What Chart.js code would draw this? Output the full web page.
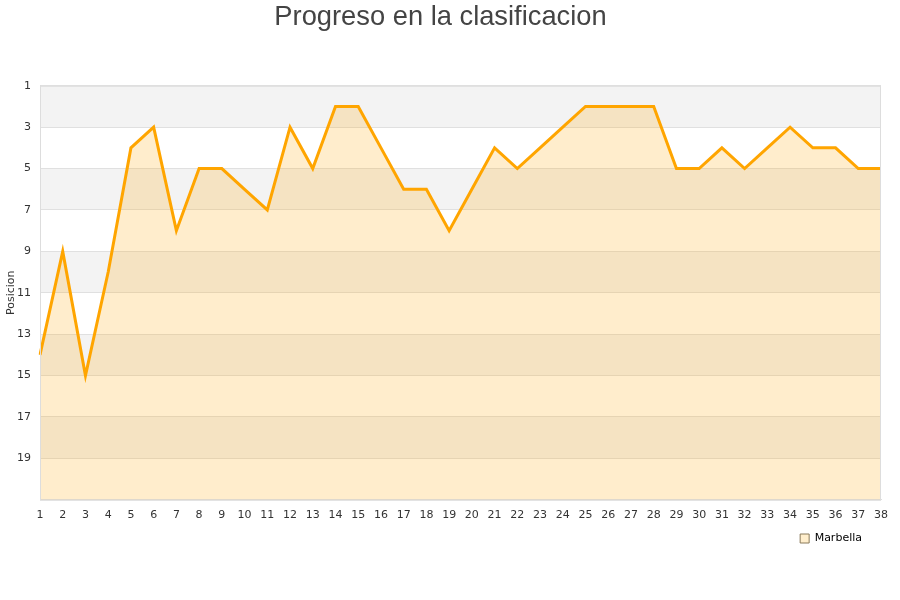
<!DOCTYPE html>
<html>
<head>
<meta charset="utf-8">
<script src="https://cdn.jsdelivr.net/npm/chart.js@4"></script>
<style>
html,body{margin:0;padding:0;background:#fff;}
#wrap{width:900px;height:600px;position:relative;}
</style>
</head>
<body>
<div id="wrap"><canvas id="c" width="900" height="600"></canvas></div>
<script>
const jornadas = ["1","2","3","4","5","6","7","8","9","10","11","12","13","14","15","16","17","18","19","20","21","22","23","24","25","26","27","28","29","30","31","32","33","34","35","36","37","38"];
const posiciones = [14,9,15,10,4,3,8,5,5,6,7,3,5,2,2,4,6,6,8,6,4,5,4,3,2,2,2,2,5,5,4,5,4,3,4,4,5,5];
const serieNombre = "Marbella";
const tituloTexto = "Progreso en la clasificacion";
const ejeYTitulo = "Posicion";

const bands = {
  id: 'bands',
  afterLayout(chart) {
    if (chart.legend) {
      chart.legend.left -= 12; chart.legend.right -= 12;
      chart.legend.top += 3; chart.legend.bottom += 3;
    }
  },
  beforeDraw(chart) {
    const {ctx, chartArea: a, scales: {y}} = chart;
    ctx.save();
    for (let v = 1; v < 21; v += 2) {
      const t = y.getPixelForValue(v), b = y.getPixelForValue(v + 2);
      ctx.fillStyle = ((v - 1) / 2) % 2 === 0 ? '#f3f3f3' : '#ffffff';
      ctx.fillRect(a.left, t, a.right - a.left, b - t);
    }
    ctx.restore();
  },
  afterDraw(chart) {
    const {ctx, chartArea: a} = chart;
    ctx.save();
    ctx.strokeStyle = '#dddddd';
    ctx.lineWidth = 1;
    ctx.strokeRect(a.left + 0.5, a.top + 0.5, a.right - a.left - 1, a.bottom - a.top);
    ctx.restore();
  }
};

new Chart(document.getElementById('c'), {
  type: 'line',
  data: {
    labels: jornadas,
    datasets: [{
      label: serieNombre,
      data: posiciones,
      borderColor: '#ffa500',
      backgroundColor: 'rgba(255,165,0,0.2)',
      borderWidth: 3,
      fill: {value: 21},
      pointRadius: 0,
      tension: 0
    }]
  },
  options: {
    responsive: false,
    animation: false,
    layout: {padding: {left: 0, right: 19, top: 0, bottom: 49}},
    plugins: {
      title: {
        display: true,
        text: tituloTexto,
        color: '#444444',
        font: {family: 'Liberation Sans, Arial, sans-serif', size: 27.3, weight: 'normal'},
        padding: {top: 1, bottom: 52}
      },
      legend: {
        position: 'bottom',
        align: 'end',
        labels: {
          boxWidth: 9,
          boxHeight: 9,
          padding: 7,
          color: '#222',
          font: {family: 'DejaVu Sans', size: 11},
          generateLabels(chart) {
            return [{text: serieNombre, fillStyle: '#ffeecc', strokeStyle: '#8a7a5a', lineWidth: 1, datasetIndex: 0}];
          }
        }
      },
      tooltip: {enabled: false}
    },
    scales: {
      x: {
        offset: false,
        grid: {display: false},
        border: {color: '#dddddd'},
        ticks: {color: '#333', font: {family: 'DejaVu Sans', size: 11}, maxRotation: 0, autoSkip: false, padding: 1}
      },
      y: {
        reverse: true,
        min: 1,
        max: 21,
        afterFit(scale) { scale.width = 40; },
        title: {display: true, text: ejeYTitulo, color: '#333', font: {family: 'DejaVu Sans', size: 11}, padding: {top: 5, bottom: 0}},
        grid: {color: '#e0e0e0', drawTicks: false},
        border: {color: '#dddddd'},
        ticks: {
          stepSize: 2,
          color: '#333',
          padding: 9,
          font: {family: 'DejaVu Sans', size: 11},
          callback: (v) => v === 21 ? '' : v
        }
      }
    }
  },
  plugins: [bands]
});
</script>
</body>
</html>
